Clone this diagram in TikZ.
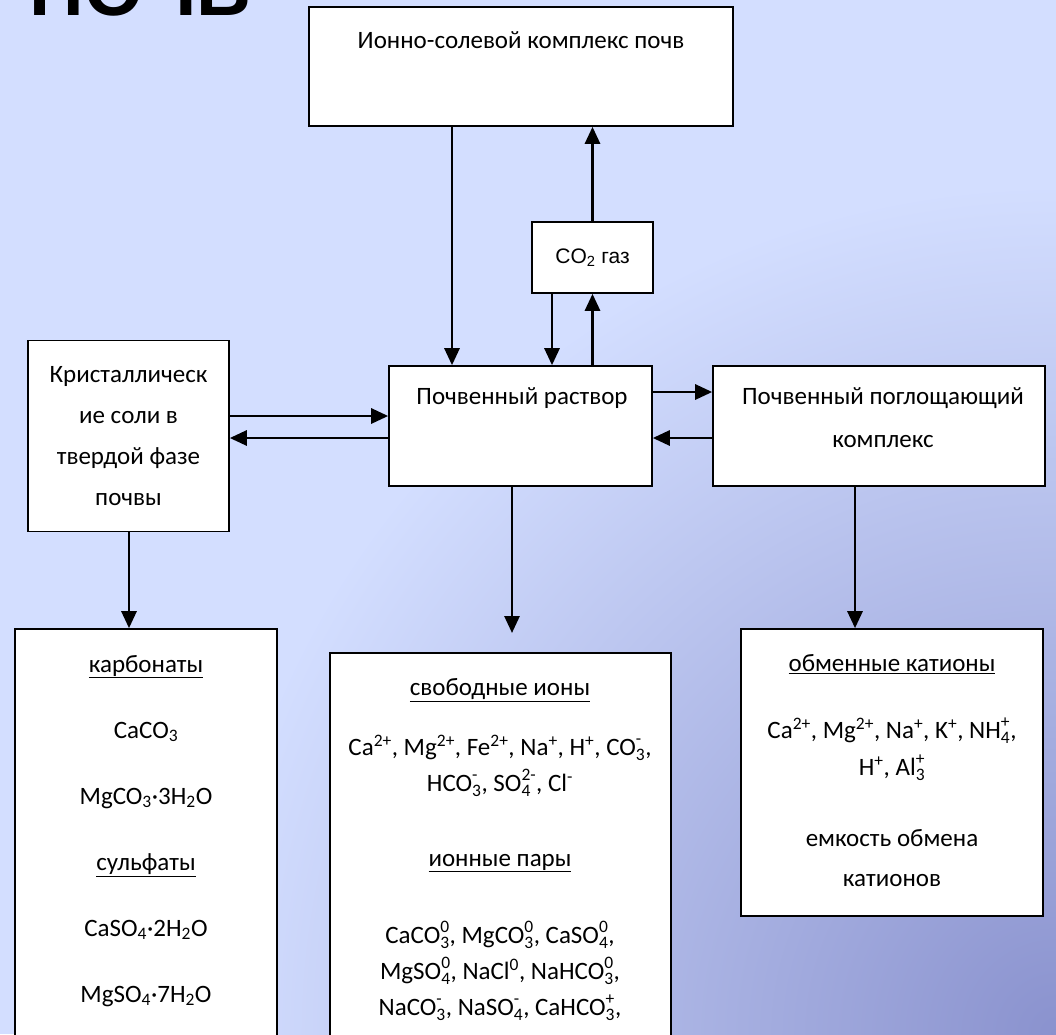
\documentclass[tikz,border=0pt]{standalone}
\usepackage{fontspec}
\setmainfont{Carlito}
\newfontfamily\titlefont{Liberation Sans}
\newfontfamily\gasfont{Liberation Sans}
\usetikzlibrary{arrows.meta}
\definecolor{bgblue}{RGB}{211,222,255}
\definecolor{bgdark}{RGB}{138,146,206}
% subscript with superscript stacked over it
\newcommand\sbsp[2]{%
  \setbox0=\hbox{\raisebox{2pt}{\textsuperscript{#2}}}%
  \setbox2=\hbox{\raisebox{-2pt}{\textsubscript{#1}}}%
  \ifdim\wd0>\wd2 \rlap{\box2}\box0 \else\rlap{\box0}\box2 \fi}

\begin{document}
\begin{tikzpicture}
  [x=1pt,y=-1pt,
   box/.style={draw,fill=white,line width=1.6pt,inner sep=0pt},
   txt/.style={align=center,font=\fontsize{25}{41}\selectfont,inner sep=0pt},
   arr/.style={line width=2.8pt,-{Triangle[length=17pt,width=15pt]}}]
  \useasboundingbox (0,0) rectangle (1056,1034);
  \clip (0,0) rectangle (1056,1034);
  \fill[bgblue] (0,0) rectangle (1056,1034);
  \shade[inner color=bgdark,outer color=bgblue] (1056,1034) circle (850);
  \node[anchor=base west,font=\titlefont\bfseries\fontsize{76}{76}\selectfont] (title) at (26,15) {ПОЧВ};

  \node[box,minimum width=424pt,minimum height=119pt] (ionsalt) at (521,66.5) {};
  \node[txt,anchor=base] (ionsalttxt) at (521,48) {Ионно-солевой комплекс почв};
  \node[box,minimum width=121pt,minimum height=71pt,font=\gasfont\fontsize{21}{25}\selectfont] (co2) at (592.5,257.5) {CO\textsubscript{2} газ};
  \node[box,txt,minimum width=201pt,minimum height=191pt] (cryst) at (128.5,436) {Кристаллическ\\ие соли в\\твердой фазе\\почвы};
  \node[box,minimum width=263pt,minimum height=120pt] (soil) at (520.5,426) {};
  \node[txt,anchor=base] (soiltxt) at (522,404) {Почвенный раствор};
  \node[box,minimum width=332pt,minimum height=120pt] (sorb) at (879,426) {};
  \node[txt,anchor=north,font=\fontsize{25}{43}\selectfont] (sorbtxt) at (883,387) {Почвенный поглощающий\\комплекс};

  \node[box,minimum width=262pt,minimum height=431pt] (carb) at (146,844.5) {};
  \node[txt,anchor=north,font=\fontsize{25}{66}\selectfont] (carbtxt) at (146,655) {\underline{карбонаты}\\CaCO\textsubscript{3}\\MgCO\textsubscript{3}·3H\textsubscript{2}O\\\underline{сульфаты}\\CaSO\textsubscript{4}·2H\textsubscript{2}O\\MgSO\textsubscript{4}·7H\textsubscript{2}O};
  \node[box,minimum width=341pt,minimum height=407pt] (ions) at (500.5,856.5) {};
  \node[txt,anchor=north,font=\fontsize{25}{36}\selectfont] (ionstxt) at (500,678) {\underline{свободные ионы}\\[24pt]
    Ca\textsuperscript{2+}, Mg\textsuperscript{2+}, Fe\textsuperscript{2+}, Na\textsuperscript{+}, H\textsuperscript{+}, CO\sbsp{3}{-},\\
    HCO\sbsp{3}{-}, SO\sbsp{4}{2-}, Cl\textsuperscript{-}\\[39pt]
    \underline{ионные пары}\\[41pt]
    CaCO\sbsp{3}{0}, MgCO\sbsp{3}{0}, CaSO\sbsp{4}{0},\\
    MgSO\sbsp{4}{0}, NaCl\textsuperscript{0}, NaHCO\sbsp{3}{0},\\
    NaCO\sbsp{3}{-}, NaSO\sbsp{4}{-}, CaHCO\sbsp{3}{+},};
  \node[box,minimum width=302pt,minimum height=287pt] (exch) at (892,772.5) {};
  \node[txt,anchor=north,font=\fontsize{25}{37}\selectfont] (exchtxt) at (892,654) {\underline{обменные катионы}\\[30pt]
    Ca\textsuperscript{2+}, Mg\textsuperscript{2+}, Na\textsuperscript{+}, K\textsuperscript{+}, NH\sbsp{4}{+},\\
    H\textsuperscript{+}, Al\sbsp{3}{+}\\[34pt]
    емкость обмена\\[3pt]
    катионов};

  \coordinate (c1) at (452,0);
  \coordinate (c2) at (552,0);
  \coordinate (c4) at (129,0);
  \coordinate (c5) at (855,0);
  \coordinate (r1) at (0,416);
  \coordinate (r2) at (0,438);
  \coordinate (r3) at (0,392);
  \coordinate (tip) at (512,633);
  \foreach \from/\to in {ionsalt.south -| c1/soil.north -| c1,
    co2.north/ionsalt.south -| co2.north,
    co2.south -| c2/soil.north -| c2,
    soil.north -| co2/co2.south,
    cryst.east |- r1/soil.west |- r1,
    soil.west |- r2/cryst.east |- r2,
    soil.east |- r3/sorb.west |- r3,
    sorb.west |- r2/soil.east |- r2,
    cryst.south -| c4/carb.north -| c4,
    soil.south -| tip/tip,
    sorb.south -| c5/exch.north -| c5}
    \draw[arr] (\from) -- (\to);
\end{tikzpicture}
\end{document}
